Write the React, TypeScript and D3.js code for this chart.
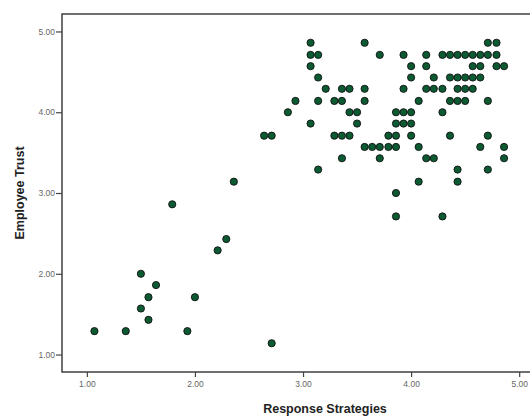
import React, { useRef, useEffect } from "react";
import * as d3 from "d3";

// Employee Trust levels (one row of dots per level)
const trustLevels = [
  4.86, 4.71, 4.57, 4.43, 4.29, 4.14, 4.0, 3.86, 3.71, 3.57, 3.43, 3.29, 3.14,
  3.0, 2.86, 2.71, 2.43, 2.29, 2.0, 1.86, 1.71, 1.57, 1.43, 1.29, 1.14,
];

// Response Strategies values found at each trust level
const strategiesByLevel = [
  [3.07, 3.57, 4.71, 4.79],
  [3.07, 3.14, 3.71, 3.93, 4.14, 4.29, 4.36, 4.43, 4.5, 4.57, 4.64, 4.71, 4.79],
  [3.07, 4.0, 4.14, 4.57, 4.64, 4.79, 4.86],
  [3.14, 4.0, 4.21, 4.36, 4.43, 4.5, 4.57, 4.64],
  [3.21, 3.36, 3.43, 3.57, 3.93, 4.14, 4.21, 4.29, 4.43, 4.5, 4.57],
  [2.93, 3.14, 3.29, 3.36, 3.57, 4.07, 4.36, 4.43, 4.5, 4.71],
  [2.86, 3.43, 3.5, 3.86, 3.93, 4.0, 4.29],
  [3.07, 3.5, 3.86, 3.93, 4.0],
  [2.64, 2.71, 3.29, 3.36, 3.43, 3.79, 3.86, 4.0, 4.36, 4.71],
  [3.57, 3.64, 3.71, 3.79, 3.86, 4.07, 4.64, 4.86],
  [3.36, 3.71, 4.14, 4.21, 4.86],
  [3.14, 4.43, 4.71],
  [2.36, 4.07, 4.43],
  [3.86],
  [1.79],
  [3.86, 4.29],
  [2.29],
  [2.21],
  [1.5],
  [1.64],
  [1.57, 2.0],
  [1.5],
  [1.57],
  [1.07, 1.36, 1.93],
  [2.71],
];

const xTicks = [1, 2, 3, 4, 5];
const yTicks = [1, 2, 3, 4, 5];

const width = 530;
const height = 418;

function ScatterPlot() {
  const svgRef = useRef(null);

  useEffect(() => {
    const svg = d3.select(svgRef.current);
    svg.selectAll("*").remove();

    const points = trustLevels.flatMap((t, i) =>
      strategiesByLevel[i].map((s) => ({ strategy: s, trust: t }))
    );

    // plot frame: left 62, top 14, bottom 372 (right side runs off the image)
    const x = d3.scaleLinear().domain([0.77, 5.1]).range([62, 530]);
    const y = d3.scaleLinear().domain([0.784, 5.2]).range([372, 15.3]);

    svg
      .append("rect")
      .attr("x", 62)
      .attr("y", 14)
      .attr("width", 520)
      .attr("height", 358)
      .attr("fill", "white")
      .attr("stroke", "#333")
      .attr("stroke-width", 1.4);

    const xAxis = svg
      .append("g")
      .attr("transform", "translate(0,372)")
      .call(
        d3
          .axisBottom(x)
          .tickValues(xTicks)
          .tickFormat(d3.format(".2f"))
          .tickSize(5)
          .tickPadding(4)
      );
    xAxis.select(".domain").remove();

    const yAxis = svg
      .append("g")
      .attr("transform", "translate(62,0)")
      .call(
        d3
          .axisLeft(y)
          .tickValues(yTicks)
          .tickFormat(d3.format(".2f"))
          .tickSize(6)
          .tickPadding(1)
      );
    yAxis.select(".domain").remove();

    svg
      .selectAll(".tick line")
      .attr("stroke", "#444")
      .attr("stroke-width", 1.2);
    svg
      .selectAll(".tick text")
      .attr("fill", "#666")
      .attr("font-family", "Liberation Sans, Arial, sans-serif")
      .attr("font-size", 8.5);

    svg
      .append("g")
      .selectAll("circle")
      .data(points)
      .join("circle")
      .attr("cx", (d) => x(d.strategy))
      .attr("cy", (d) => y(d.trust))
      .attr("r", 3.6)
      .attr("fill", "#0b5a32")
      .attr("stroke", "#111")
      .attr("stroke-width", 0.9);

    svg
      .append("text")
      .attr("x", 325)
      .attr("y", 413)
      .attr("text-anchor", "middle")
      .attr("font-family", "Liberation Sans, Arial, sans-serif")
      .attr("font-weight", "bold")
      .attr("font-size", 12.5)
      .attr("fill", "#222")
      .text("Response Strategies");

    svg
      .append("text")
      .attr("transform", "translate(24,193) rotate(-90)")
      .attr("text-anchor", "middle")
      .attr("font-family", "Liberation Sans, Arial, sans-serif")
      .attr("font-weight", "bold")
      .attr("font-size", 12.5)
      .attr("fill", "#222")
      .text("Employee Trust");
  }, []);

  return (
    <svg
      ref={svgRef}
      width={width}
      height={height}
      style={{ position: "absolute", left: 0, top: 0, background: "white" }}
    ></svg>
  );
}

export default function App() {
  return <ScatterPlot />;
}
